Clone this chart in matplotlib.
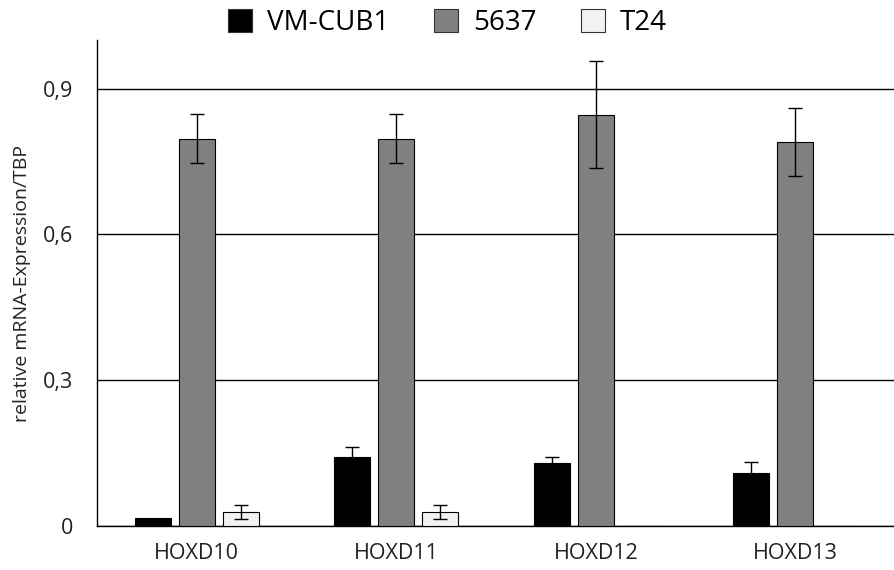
import matplotlib
matplotlib.use("Agg")
import matplotlib.pyplot as plt
import numpy as np

plt.rcParams["font.family"] = ["Open Sans", "DejaVu Sans"]

genes = ["HOXD10", "HOXD11", "HOXD12", "HOXD13"]
series = ["VM-CUB1", "5637", "T24"]
vm_cub1 = [0.016, 0.142, 0.130, 0.109]
vm_cub1_err = [0.0, 0.021, 0.012, 0.023]
c5637 = [0.797, 0.797, 0.846, 0.791]
c5637_err = [0.050, 0.050, 0.110, 0.070]
t24 = [0.029, 0.029, 0.0, 0.0]
t24_err = [0.015, 0.015, 0.0, 0.0]
yticks = [0, 0.3, 0.6, 0.9]
ytick_labels = ["0", "0,3", "0,6", "0,9"]

COL = ["#000000", "#808080", "#f2f2f2"]

fig = plt.figure(figsize=(8.95, 5.70), dpi=100)
ax = fig.add_axes([0.1084, 0.0772, 0.8916, 0.8526])

x = np.arange(len(genes))
w, step = 0.18, 0.22
vals = [vm_cub1, c5637, t24]
errs = [vm_cub1_err, c5637_err, t24_err]
for i, (name, v, e) in enumerate(zip(series, vals, errs)):
    xi = x + (i - 1) * step
    ax.bar(xi, v, width=w, color=COL[i], edgecolor="#000000", linewidth=0.8,
           label=name, zorder=3)
    has = np.array(e) > 0
    ax.errorbar(xi[has], np.array(v)[has], yerr=np.array(e)[has], fmt="none",
                ecolor="#000000", elinewidth=1, capsize=5, capthick=1, zorder=4)

ax.set_xlim(-0.5, 3.5)
ax.set_ylim(0, 1.0)
ax.set_yticks(yticks)
ax.set_yticklabels(ytick_labels, fontsize=15.5, color="#222222")
ax.set_xticks(x)
ax.set_xticklabels(genes, fontsize=15.5, color="#222222")
ax.tick_params(axis="both", length=0)
ax.tick_params(axis="y", pad=17)
ax.tick_params(axis="x", pad=12)
ax.yaxis.grid(True, color="#000000", linewidth=1, zorder=0)
ax.set_axisbelow(True)
for s in ("top", "right"):
    ax.spines[s].set_visible(False)
for s in ("left", "bottom"):
    ax.spines[s].set_color("#000000")
    ax.spines[s].set_linewidth(1)
ax.set_ylabel("relative mRNA-Expression/TBP", fontsize=14, labelpad=9, color="#222222")

handles = [plt.Rectangle((0, 0), 1, 1, facecolor=COL[i], edgecolor="#333333", linewidth=0.8)
           for i in range(3)]
fig.legend(handles, series, loc="upper center", bbox_to_anchor=(0.5, 1.028), ncol=3,
           frameon=False, fontsize=20, handlelength=0.86, handleheight=0.86,
           handletextpad=0.55, columnspacing=1.6)

fig.savefig("out.png", dpi=100)
